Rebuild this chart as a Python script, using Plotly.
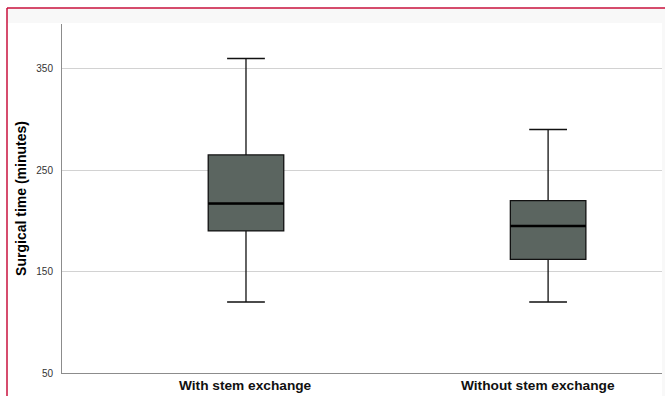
import plotly.graph_objects as go

categories = ["With stem exchange", "Without stem exchange"]
lower_whisker = [120, 120]
q1 = [190, 162]
median = [217, 195]
q3 = [265, 220]
upper_whisker = [360, 290]

y_ticks = [50, 150, 250, 350]

box_fill = "#5b6560"
box_width = 0.25
label_shift = [0, -10]

fig = go.Figure()
xs = list(range(len(categories)))
fig.add_trace(go.Box(
    x=xs, q1=q1, median=median, q3=q3,
    lowerfence=lower_whisker, upperfence=upper_whisker,
    width=box_width, whiskerwidth=0.5,
    fillcolor=box_fill, line=dict(color="#111111", width=1.3),
    boxpoints=False, hoverinfo="skip", showlegend=False,
))
# thicker median lines
for i, m in enumerate(median):
    fig.add_trace(go.Scatter(
        x=[i - box_width / 2, i + box_width / 2], y=[m, m],
        mode="lines", line=dict(color="#000000", width=2.5),
        hoverinfo="skip", showlegend=False,
    ))

L, R, T, B = 62, 3, 24, 23
W, H = 665, 396
pw, ph = W - L - R, H - T - B

def px_x(p):
    return (p - L) / pw

def px_y(p):
    return 1 - (p - T) / ph

annotations = [
    dict(x=i, xref="x", y=0, yref="paper", yanchor="top", xanchor="center",
         yshift=-3, xshift=label_shift[i], text=c, showarrow=False,
         font=dict(size=13.7, color="#111111", family="Liberation Sans, Arial, sans-serif", weight="bold"))
    for i, c in enumerate(categories)
]

fig.update_layout(
    width=W, height=H,
    margin=dict(l=L, r=R, t=T, b=B),
    paper_bgcolor="white", plot_bgcolor="white",
    font=dict(family="Liberation Sans, Arial, sans-serif"),
    annotations=annotations,
    xaxis=dict(
        range=[-0.609, 1.377], tickvals=xs, showticklabels=False,
        showgrid=False, zeroline=False, showline=True, linecolor="#8c8c8c", linewidth=1,
        ticks="", automargin=False,
    ),
    yaxis=dict(
        range=[50, 394], tickvals=y_ticks, automargin=False,
        showgrid=True, gridcolor="#d2d2d2", gridwidth=1, zeroline=False,
        showline=True, linecolor="#8c8c8c", linewidth=1,
        ticks="outside", ticklen=6, tickcolor="rgba(0,0,0,0)",
        tickfont=dict(size=10, color="#333333"),
        title=dict(text="Surgical time (minutes)", standoff=6,
                   font=dict(size=14, color="#000000", weight="bold")),
    ),
    shapes=[
        dict(type="rect", xref="paper", yref="paper",
             x0=px_x(7), x1=px_x(W + 5), y0=px_y(23), y1=px_y(8),
             fillcolor="#f8f8f8", line=dict(width=0), layer="below"),
        dict(type="rect", xref="paper", yref="paper",
             x0=px_x(662), x1=px_x(W + 5), y0=px_y(W), y1=px_y(8),
             fillcolor="#f8f8f8", line=dict(width=0), layer="below"),
        dict(type="line", xref="paper", yref="paper",
             x0=px_x(7), x1=px_x(W + 5), y0=px_y(8), y1=px_y(8),
             line=dict(color="#c8103c", width=1.5)),
        dict(type="line", xref="paper", yref="paper",
             x0=px_x(7), x1=px_x(7), y0=px_y(8), y1=px_y(H + 5),
             line=dict(color="#c8103c", width=1.5)),
    ],
)

fig.write_html("out.html")
